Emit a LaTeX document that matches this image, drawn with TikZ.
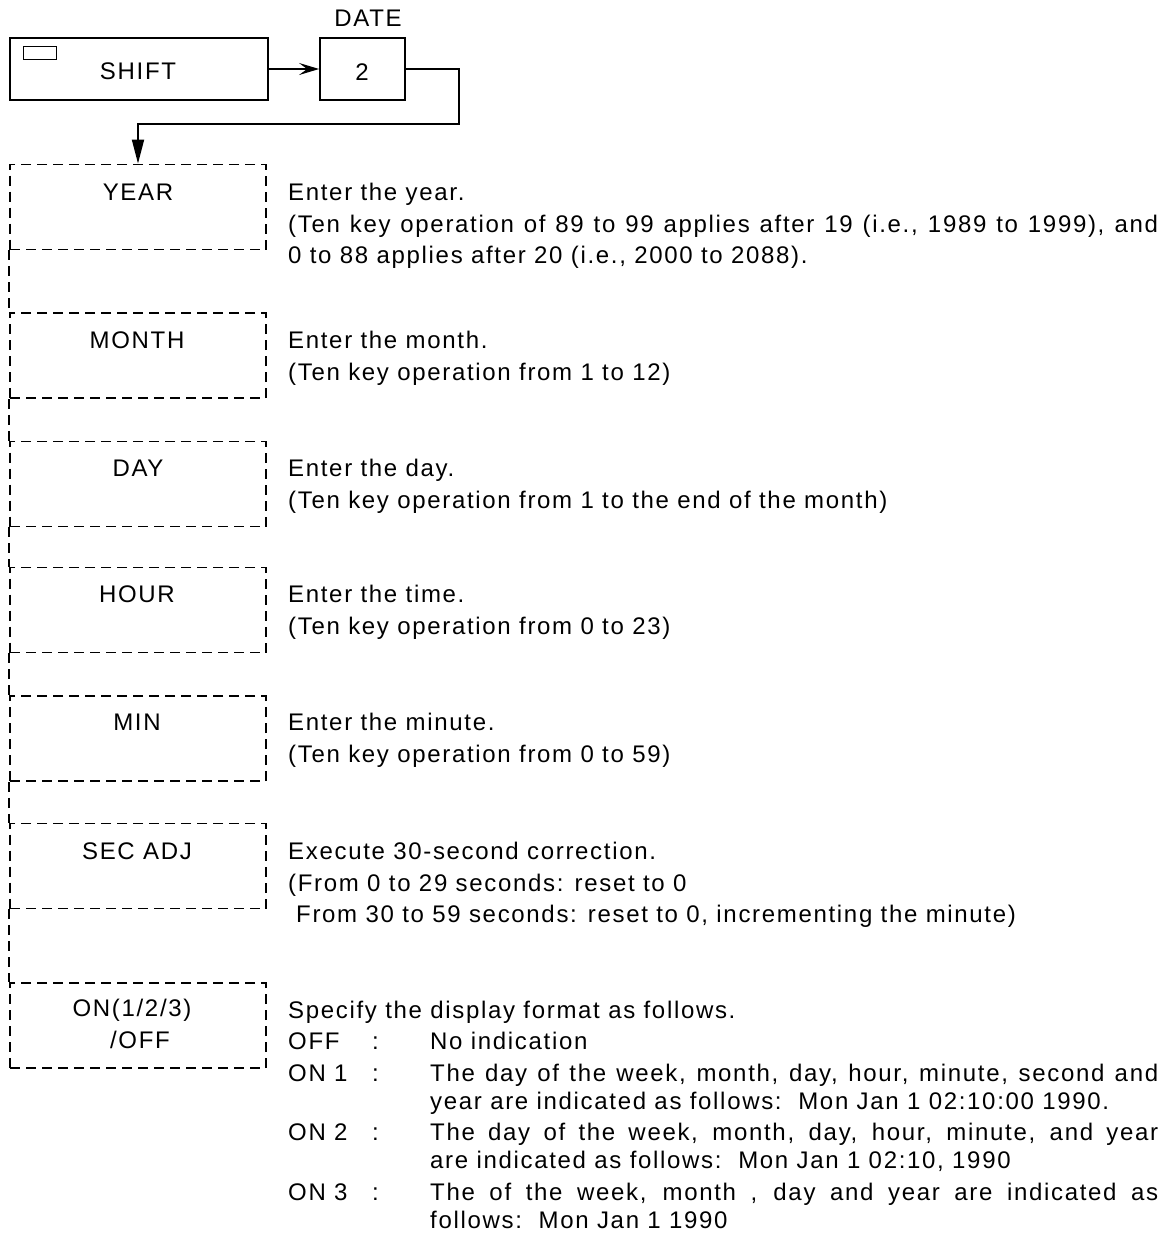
\documentclass[tikz,border=0pt]{standalone}
\usepackage{fontspec}
\setmainfont[LetterSpace=7]{Liberation Sans}
\usetikzlibrary{arrows.meta}
\begin{document}
\begin{tikzpicture}[x=1pt,y=-1pt,
  every node/.style={font=\fontsize{24pt}{30pt}\selectfont},
  solidbox/.style={draw,line width=1.8pt,inner sep=0pt},
  keybox/.style={draw,line width=1.8pt,dash pattern=on 10pt off 6pt,
    minimum width=256pt,minimum height=85pt,inner sep=0pt},
  lbl/.style={anchor=base,inner sep=0pt},
  txt/.style={anchor=base west,inner sep=0pt},
  link/.style={line width=1.8pt},
  dlink/.style={line width=1.8pt,dash pattern=on 10pt off 6pt}]
\useasboundingbox (0,0) rectangle (1166,1245);

% top keys
\node[solidbox,minimum width=258pt,minimum height=62pt] (shift) at (139,69) {};
\node[solidbox,line width=1.5pt,minimum width=33pt,minimum height=13pt] (shiftkey) at (40,53) {};
\node[lbl] (shiftl) at (138,79) {SHIFT};
\node[solidbox,minimum width=85pt,minimum height=62pt] (two) at (362.5,69) {};
\node[lbl] (twol) at (362,80) {2};
\node[lbl] (date) at (368,26) {DATE};
\coordinate (c1) at (459,124);

% dashed boxes
\node[keybox] (year) at (138,207) {};
\node[keybox] (month) at (138,355.5) {};
\node[keybox] (day) at (138,484) {};
\node[keybox] (hour) at (138,610) {};
\node[keybox] (min) at (138,738.5) {};
\node[keybox] (sec) at (138,866) {};
\node[keybox] (onoff) at (138,1025.5) {};

\node[lbl] (yearl) at (138,200) {YEAR};
\node[lbl] (monthl) at (137,348) {MONTH};
\node[lbl] (dayl) at (138,476) {DAY};
\node[lbl] (hourl) at (137,602) {HOUR};
\node[lbl] (minl) at (137,730) {MIN};
\node[lbl] (secl) at (137,859) {SEC ADJ};
\node[lbl] (onl1) at (132,1016) {ON(1/2/3)};
\node[lbl] (onl2) at (140,1048) {/OFF};

% connectors
\draw[link,-{Stealth[length=20pt,width=12pt,inset=8pt]}] (shift.east) -- (two.west);
\draw[link,-{Triangle[length=24pt,width=12pt]}] (two.east) -| (c1) -| (year.north);
\draw[dlink] (year.south west) -- (month.north west);
\draw[dlink] (month.south west) -- (day.north west);
\draw[dlink] (day.south west) -- (hour.north west);
\draw[dlink] (hour.south west) -- (min.north west);
\draw[dlink] (min.south west) -- (sec.north west);
\draw[dlink] (sec.south west) -- (onoff.north west);

% descriptions
\node[txt] (y1) at (288,200) {Enter the year.};
\node[txt] (y2) at (288,232) {\makebox[870pt][s]{(Ten key operation of 89 to 99 applies after 19 (i.e., 1989 to 1999), and}};
\node[txt] (y3) at (288,263) {0 to 88 applies after 20 (i.e., 2000 to 2088).};

\node[txt] (m1) at (288,348) {Enter the month.};
\node[txt] (m2) at (288,380) {(Ten key operation from 1 to 12)};

\node[txt] (d1) at (288,476) {Enter the day.};
\node[txt] (d2) at (288,508) {(Ten key operation from 1 to the end of the month)};

\node[txt] (h1) at (288,602) {Enter the time.};
\node[txt] (h2) at (288,634) {(Ten key operation from 0 to 23)};

\node[txt] (n1) at (288,730) {Enter the minute.};
\node[txt] (n2) at (288,762) {(Ten key operation from 0 to 59)};

\node[txt] (s1) at (288,859) {Execute 30-second correction.};
\node[txt] (s2) at (288,891) {(From 0 to 29 seconds: reset to 0};
\node[txt] (s3) at (296,922) {From 30 to 59 seconds: reset to 0, incrementing the minute)};

\node[txt] (o0) at (288,1018) {Specify the display format as follows.};
\node[txt] (o1a) at (288,1049) {OFF};
\node[txt] (o1b) at (372,1049) {:};
\node[txt] (o1c) at (430,1049) {No indication};
\node[txt] (o2a) at (288,1081) {ON 1};
\node[txt] (o2b) at (372,1081) {:};
\node[txt] (o2c) at (430,1081) {\makebox[728pt][s]{The day of the week, month, day, hour, minute, second and}};
\node[txt] (o2d) at (430,1109) {year are indicated as follows:\ \ Mon Jan 1 02:10:00 1990.};
\node[txt] (o3a) at (288,1140) {ON 2};
\node[txt] (o3b) at (372,1140) {:};
\node[txt] (o3c) at (430,1140) {\makebox[728pt][s]{The day of the week, month, day, hour, minute, and year}};
\node[txt] (o3d) at (430,1168) {are indicated as follows:\ \ Mon Jan 1 02:10, 1990};
\node[txt] (o4a) at (288,1200) {ON 3};
\node[txt] (o4b) at (372,1200) {:};
\node[txt] (o4c) at (430,1200) {\makebox[728pt][s]{The of the week, month , day and year are indicated as}};
\node[txt] (o4d) at (430,1228) {follows:\ \ Mon Jan 1 1990};
\end{tikzpicture}
\end{document}
